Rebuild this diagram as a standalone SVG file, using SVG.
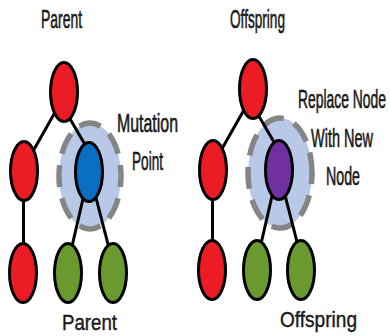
<svg xmlns="http://www.w3.org/2000/svg" width="390" height="336" viewBox="0 0 390 336">
<style>
.n{stroke:#000;stroke-width:3}
.red{fill:#ec1c24}
.blue{fill:#0a6fc2}
.purple{fill:#7030a0}
.green{fill:#69992f}
.ring{fill:#b8c9e8;stroke:#858585;stroke-width:5.5;stroke-dasharray:22 11.5;stroke-dashoffset:11}
.e{stroke:#000;stroke-width:3;fill:none}
text{font-family:"Liberation Sans",Arial,sans-serif;font-size:14px;fill:#1a1a1a;stroke:#1a1a1a;stroke-width:0.35}
.b{font-size:18px}
</style>
<rect width="390" height="336" fill="#fff"/>
<g id="rings">
<ellipse id="ring-left" class="ring" cx="90" cy="176" rx="31" ry="53"/>
<ellipse id="ring-right" class="ring" cx="280" cy="173" rx="32" ry="55"/>
</g>
<g id="connectors">
<line class="e" x1="62" y1="100" x2="28" y2="160"/>
<line class="e" x1="66" y1="112" x2="87" y2="148"/>
<line class="e" x1="23.5" y1="190" x2="23.5" y2="255"/>
<line class="e" x1="85" y1="190" x2="70" y2="255"/>
<line class="e" x1="94" y1="190" x2="110" y2="252"/>
<line class="e" x1="251" y1="97.5" x2="217" y2="157.5"/>
<line class="e" x1="255" y1="109.5" x2="276" y2="145.5"/>
<line class="e" x1="212.5" y1="187.5" x2="212.5" y2="252.5"/>
<line class="e" x1="274" y1="187.5" x2="259" y2="252.5"/>
<line class="e" x1="283" y1="187.5" x2="299" y2="249.5"/>
</g>
<g id="parent-top"><ellipse class="n red" cx="64" cy="92" rx="13.5" ry="29.5"/></g>
<g id="parent-midleft"><ellipse class="n red" cx="24" cy="171" rx="13.5" ry="29.5"/></g>
<g id="parent-mutation"><ellipse class="n blue" cx="89" cy="172" rx="13.5" ry="29.5"/></g>
<g id="parent-botleft"><ellipse class="n red" cx="23" cy="273" rx="13.5" ry="29.5"/></g>
<g id="parent-green1"><ellipse class="n green" cx="68" cy="273" rx="13.5" ry="29.5"/></g>
<g id="parent-green2"><ellipse class="n green" cx="113" cy="273" rx="13.5" ry="29.5"/></g>
<g id="off-top"><ellipse class="n red" cx="253" cy="89" rx="13.5" ry="29.5"/></g>
<g id="off-midleft"><ellipse class="n red" cx="213" cy="170" rx="13.5" ry="29.5"/></g>
<g id="off-new"><ellipse class="n purple" cx="279" cy="170" rx="13.5" ry="29.5"/></g>
<g id="off-botleft"><ellipse class="n red" cx="212" cy="270" rx="13.5" ry="29.5"/></g>
<g id="off-green1"><ellipse class="n green" cx="257" cy="270" rx="13.5" ry="29.5"/></g>
<g id="off-green2"><ellipse class="n green" cx="301" cy="270" rx="13.5" ry="29.5"/></g>
<g id="labels">
<text transform="translate(41,28) scale(1,1.9)" textLength="41" lengthAdjust="spacingAndGlyphs">Parent</text>
<text transform="translate(230,28) scale(1,1.9)" textLength="55" lengthAdjust="spacingAndGlyphs">Offspring</text>
<text transform="translate(117,132) scale(1,1.9)" textLength="61" lengthAdjust="spacingAndGlyphs">Mutation</text>
<text transform="translate(132,170) scale(1,1.9)" textLength="31" lengthAdjust="spacingAndGlyphs">Point</text>
<text transform="translate(298,108) scale(1,1.9)" textLength="88" lengthAdjust="spacingAndGlyphs">Replace Node</text>
<text transform="translate(311,147) scale(1,1.9)" textLength="62" lengthAdjust="spacingAndGlyphs">With New</text>
<text transform="translate(326,185) scale(1,1.9)" textLength="34" lengthAdjust="spacingAndGlyphs">Node</text>
<text class="b" transform="translate(62,330) scale(1,1.25)" textLength="55" lengthAdjust="spacingAndGlyphs">Parent</text>
<text class="b" transform="translate(280,327) scale(1,1.25)" textLength="77" lengthAdjust="spacingAndGlyphs">Offspring</text>
</g>
</svg>
